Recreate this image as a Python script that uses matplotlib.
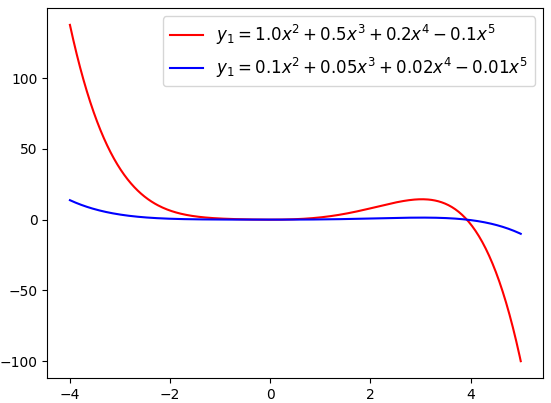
import numpy as np
import matplotlib
matplotlib.use("Agg")
import matplotlib.pyplot as plt

# polynomial coefficients (x^2, x^3, x^4, x^5)
powers = [2, 3, 4, 5]
coef_red = [1.0, 0.5, 0.2, -0.1]
coef_blue = [0.1, 0.05, 0.02, -0.01]
x_start, x_end = -4, 5

x = np.linspace(x_start, x_end, 400)
y_red = sum(c * x**p for c, p in zip(coef_red, powers))
y_blue = sum(c * x**p for c, p in zip(coef_blue, powers))

fig = plt.figure(figsize=(5.51, 4.03), dpi=100)
ax = fig.add_axes([0.086, 0.062, 0.900, 0.918])
ax.plot(x, y_red, color='red', label=r'$y_1=1.0x^2+0.5x^3+0.2x^4-0.1x^5$')
ax.plot(x, y_blue, color='blue', label=r'$y_1=0.1x^2+0.05x^3+0.02x^4-0.01x^5$')
ax.legend(loc='upper right', fontsize=12)
ax.set_yticks([-100, -50, 0, 50, 100])
ax.set_xticks([-4, -2, 0, 2, 4])
fig.savefig("out.png")
